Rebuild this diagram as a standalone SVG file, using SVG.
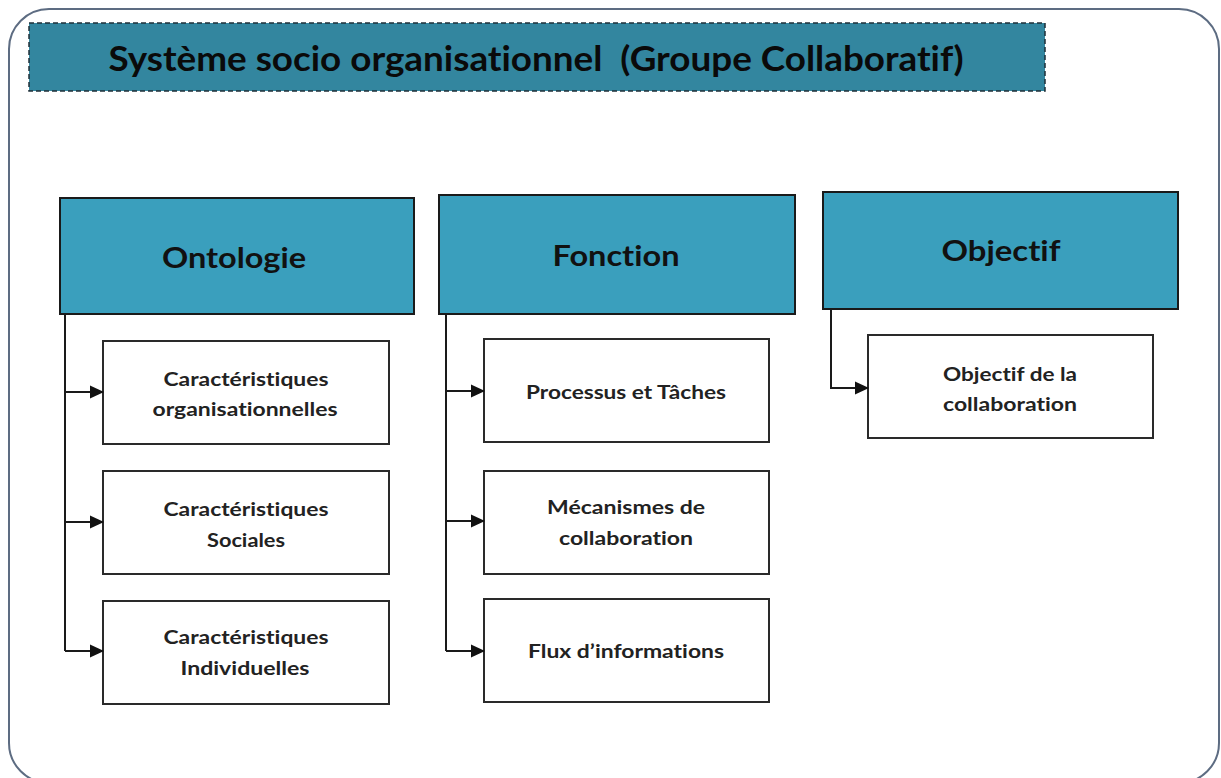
<svg xmlns="http://www.w3.org/2000/svg" width="1221" height="778" viewBox="0 0 1221 778">
<style>
.frame{fill:#fff;stroke:#5d6c82;stroke-width:2}
.title{fill:#33869f;stroke:#1e2f38;stroke-width:1.5;stroke-dasharray:5 3}
.head{fill:#3a9fbd;stroke:#1a1a1a;stroke-width:2}
.child{fill:#fff;stroke:#2a2a2a;stroke-width:2}
text{font-variant-ligatures:none;font-feature-settings:"liga" 0}
.ttl{font-family:Lato,"Liberation Sans",Arial,sans-serif;font-weight:bold;font-size:35px;fill:#0a0a0a;text-anchor:middle}
.htxt{font-family:Lato,"Liberation Sans",Arial,sans-serif;font-weight:bold;font-size:29px;fill:#111;text-anchor:middle}
.ctxt{font-family:Lato,"Liberation Sans",Arial,sans-serif;font-weight:bold;font-size:19px;fill:#222;text-anchor:middle}
.conn{fill:none;stroke:#1a1a1a;stroke-width:2}
</style>
<defs>
<marker id="arr" markerWidth="14" markerHeight="14" refX="13" refY="7" orient="auto" markerUnits="userSpaceOnUse">
<path d="M0,0.5 L14,7 L0,13.5 Z" fill="#111"/>
</marker>
</defs>
<rect class="frame" x="9" y="9" width="1210" height="774" rx="40" ry="40"/>
<g id="title">
<rect class="title" x="29" y="23" width="1016" height="68"/>
<text class="ttl" x="536" y="71" textLength="855" lengthAdjust="spacingAndGlyphs" xml:space="preserve">Système socio organisationnel  (Groupe Collaboratif)</text>
</g>
<g id="ontologie">
<rect class="head" x="60" y="198" width="354" height="116"/>
<text class="htxt" x="234" y="268" textLength="144" lengthAdjust="spacingAndGlyphs">Ontologie</text>
</g>
<g id="fonction">
<rect class="head" x="439" y="195" width="356" height="119"/>
<text class="htxt" x="616" y="266" textLength="127" lengthAdjust="spacingAndGlyphs">Fonction</text>
</g>
<g id="objectif">
<rect class="head" x="823" y="192" width="355" height="117"/>
<text class="htxt" x="1001" y="261" textLength="119" lengthAdjust="spacingAndGlyphs">Objectif</text>
</g>
<g id="c-org">
<rect class="child" x="103" y="341" width="286" height="103"/>
<text class="ctxt" x="246" y="386" textLength="165" lengthAdjust="spacingAndGlyphs">Caractéristiques</text>
<text class="ctxt" x="245" y="416" textLength="185" lengthAdjust="spacingAndGlyphs">organisationnelles</text>
</g>
<g id="c-soc">
<rect class="child" x="103" y="471" width="286" height="103"/>
<text class="ctxt" x="246" y="516" textLength="165" lengthAdjust="spacingAndGlyphs">Caractéristiques</text>
<text class="ctxt" x="246" y="547" textLength="78" lengthAdjust="spacingAndGlyphs">Sociales</text>
</g>
<g id="c-ind">
<rect class="child" x="103" y="601" width="286" height="103"/>
<text class="ctxt" x="246" y="644" textLength="165" lengthAdjust="spacingAndGlyphs">Caractéristiques</text>
<text class="ctxt" x="245" y="675" textLength="129" lengthAdjust="spacingAndGlyphs">Individuelles</text>
</g>
<g id="f-proc">
<rect class="child" x="484" y="339" width="285" height="103"/>
<text class="ctxt" x="626" y="399" textLength="200" lengthAdjust="spacingAndGlyphs">Processus et Tâches</text>
</g>
<g id="f-meca">
<rect class="child" x="484" y="471" width="285" height="103"/>
<text class="ctxt" x="626" y="514" textLength="158" lengthAdjust="spacingAndGlyphs">Mécanismes de</text>
<text class="ctxt" x="626" y="545" textLength="134" lengthAdjust="spacingAndGlyphs">collaboration</text>
</g>
<g id="f-flux">
<rect class="child" x="484" y="599" width="285" height="103"/>
<text class="ctxt" x="626" y="658" textLength="196" lengthAdjust="spacingAndGlyphs">Flux d’informations</text>
</g>
<g id="o-obj">
<rect class="child" x="868" y="335" width="285" height="103"/>
<text class="ctxt" x="1010" y="381" textLength="134" lengthAdjust="spacingAndGlyphs">Objectif de la</text>
<text class="ctxt" x="1010" y="411" textLength="134" lengthAdjust="spacingAndGlyphs">collaboration</text>
</g>
<g id="connectors">
<path class="conn" d="M65,314 V651"/>
<path class="conn" d="M65,392 H103" marker-end="url(#arr)"/>
<path class="conn" d="M65,522 H103" marker-end="url(#arr)"/>
<path class="conn" d="M65,651 H103" marker-end="url(#arr)"/>
<path class="conn" d="M446,314 V651"/>
<path class="conn" d="M446,391 H484" marker-end="url(#arr)"/>
<path class="conn" d="M446,521 H484" marker-end="url(#arr)"/>
<path class="conn" d="M446,651 H484" marker-end="url(#arr)"/>
<path class="conn" d="M831,309 V388 H868" marker-end="url(#arr)"/>
</g>
</svg>
